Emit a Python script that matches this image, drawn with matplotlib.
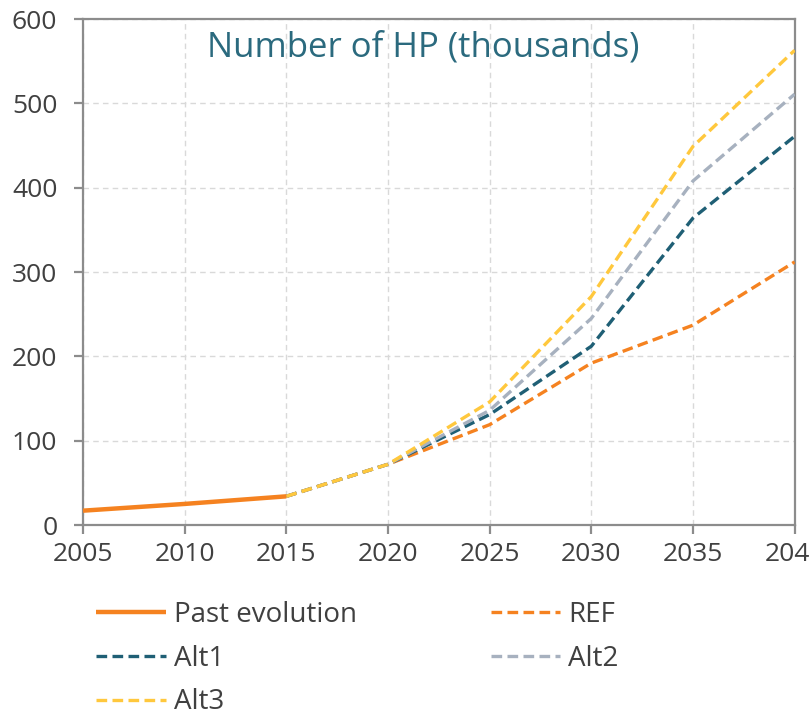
import matplotlib
matplotlib.use("Agg")
import matplotlib.pyplot as plt

years_past = [2005, 2010, 2015]
past = [17, 25, 34]

years_proj = [2015, 2020, 2025, 2030, 2035, 2040]
ref = [34, 72, 119, 192, 237, 312]
alt1 = [34, 72, 131, 212, 364, 461]
alt2 = [34, 72, 136, 245, 408, 511]
alt3 = [34, 72, 146, 271, 449, 563]

xticks = [2005, 2010, 2015, 2020, 2025, 2030, 2035, 2040]
yticks = [0, 100, 200, 300, 400, 500, 600]

plt.rcParams['font.family'] = ['Open Sans', 'DejaVu Sans']

orange = "#F58220"
teal = "#1F5F75"
grey = "#A7B1BF"
yellow = "#FFC83D"
txt = "#404040"

fig = plt.figure(figsize=(8.1, 7.11), dpi=100)
ax = fig.add_axes([0.1025, 0.2616, 0.8785, 0.7115])

lw = 2.4
dash = (3.2, 1.6)
ax.plot(years_past, past, color=orange, lw=3.2, solid_capstyle="butt", label="Past evolution", zorder=5)
ax.plot(years_proj, ref, color=orange, lw=lw, dashes=dash, label="REF", zorder=3)
ax.plot(years_proj, alt1, color=teal, lw=lw, dashes=dash, label="Alt1", zorder=3)
ax.plot(years_proj, alt2, color=grey, lw=lw, dashes=dash, label="Alt2", zorder=3)
ax.plot(years_proj, alt3, color=yellow, lw=lw, dashes=dash, label="Alt3", zorder=3)

ax.set_xlim(2005, 2040)
ax.set_ylim(0, 600)
ax.set_xticks(xticks)
ax.set_yticks(yticks)
ax.grid(True, color="#D9D9D9", linestyle=(0, (4, 3)), lw=1)
ax.set_axisbelow(True)
for s in ax.spines.values():
    s.set_color("#8C8C8C")
    s.set_linewidth(1.6)
ax.tick_params(axis="both", colors="#8C8C8C", width=1.6, length=6.5, labelsize=19, labelcolor=txt)
ax.tick_params(axis="x", pad=6)
ax.tick_params(axis="y", pad=12)

ax.text(0.478, 0.943, "Number of HP (thousands)", transform=ax.transAxes,
        ha="center", va="center", fontsize=25, color="#2B6A7E")

# row-wise legend order like the original
h, l = ax.get_legend_handles_labels()
order = [0, 2, 4, 1, 3]
leg = fig.legend([h[i] for i in order], [l[i] for i in order], ncol=2, loc="upper left",
                 bbox_to_anchor=(0.119, 0.155), frameon=False, fontsize=20,
                 handlelength=2.5, handletextpad=0.3, columnspacing=4.8,
                 labelspacing=0.57, borderpad=0, borderaxespad=0, labelcolor=txt)

fig.savefig("out.png", dpi=100)
